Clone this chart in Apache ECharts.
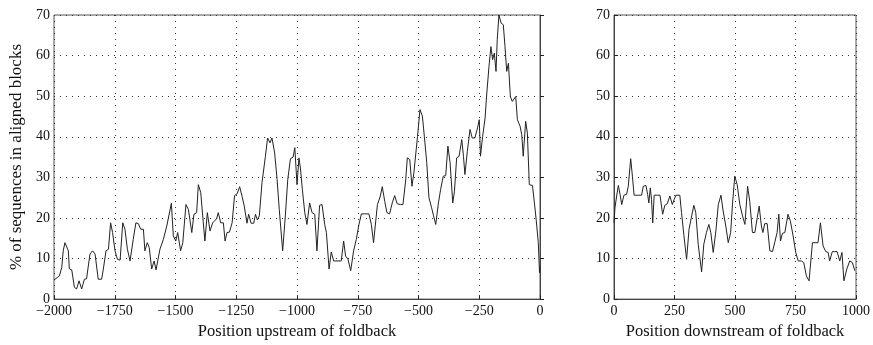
<!DOCTYPE html>
<html>
<head>
<meta charset="utf-8">
<script src="https://cdn.jsdelivr.net/npm/echarts@6/dist/echarts.min.js"></script>
<style>
  html, body { margin: 0; padding: 0; background: #fff; }
  #chart { width: 873px; height: 345px; }
</style>
</head>
<body>
<div id="chart"></div>
<script>
// upstream of foldback (left panel)
const upX = [-2000, -1992, -1978, -1968, -1962, -1955, -1948, -1941, -1937, -1927, -1916, -1907, -1897, -1886, -1875, -1866,
  -1852, -1841, -1831, -1818, -1804, -1797, -1786, -1776, -1767, -1759, -1749, -1739, -1728, -1717, -1708, -1698,
  -1687, -1674, -1663, -1653, -1643, -1632, -1626, -1616, -1608, -1598, -1588, -1580, -1564, -1550, -1536, -1517,
  -1509, -1499, -1491, -1479, -1470, -1457, -1447, -1433, -1424, -1413, -1406, -1396, -1388, -1379, -1369, -1358,
  -1347, -1331, -1324, -1314, -1303, -1296, -1288, -1278, -1267, -1257, -1246, -1236, -1226, -1217, -1206, -1199,
  -1189, -1178, -1171, -1163, -1155, -1144, -1130, -1121, -1111, -1103, -1092, -1082, -1073, -1059, -1048, -1038,
  -1027, -1016, -1009, -1000, -992, -986, -978, -968, -959, -948, -938, -927, -918, -907, -897, -886,
  -879, -868, -859, -849, -831, -818, -808, -800, -790, -779, -767, -756, -745, -735, -717, -704,
  -694, -685, -678, -669, -657, -649, -639, -630, -619, -608, -598, -588, -575, -564, -553, -546,
  -536, -527, -519, -504, -494, -484, -476, -466, -457, -446, -438, -429, -418, -409, -398, -388,
  -379, -370, -359, -352, -343, -333, -322, -315, -309, -299, -288, -279, -268, -257, -250, -245,
  -236, -226, -220, -210, -202, -195, -188, -181, -176, -169, -160, -151, -144, -137, -130, -122,
  -114, -106, -100, -93, -82, -75, -69, -59, -52, -44, -31, -23, -16, -7, -2, 0];
const upY = [4.7, 4.9, 5.7, 7.8, 11.9, 13.9, 14, 11.9, 7.5, 7.2, 2.9, 2.5, 4.5, 2.5, 4.9, 5,
  11.1, 11.9, 11.1, 4.9, 4.9, 7.4, 11.9, 12.3, 18.8, 16.4, 11.9, 9.8, 9.6, 18.8, 17.2, 12.3,
  9.4, 14.7, 18.8, 18.6, 17.2, 17.2, 11.9, 13.9, 12.7, 7.4, 9.4, 7.2, 12.3, 14.7, 18, 23.6,
  15.6, 14.3, 16.4, 11.9, 13.9, 23.3, 22.1, 16.4, 20.9, 21.3, 28.2, 26.2, 20.5, 14.3, 21.3, 16.8,
  18.8, 19.8, 21.3, 18.8, 18.8, 14.3, 16.4, 16.5, 18.8, 25.5, 26, 27.7, 25.3, 22.9, 18.7, 20.9,
  18.7, 18.7, 20.9, 19.5, 20.5, 28.7, 35.2, 39.7, 38.5, 39.7, 36, 29.5, 22.1, 11.9, 20.5, 29.5,
  34.6, 35, 37.3, 28.2, 34.8, 32.3, 27, 21.3, 18.4, 23.7, 21.3, 20.9, 11.9, 23.1, 23.3, 18.4,
  16.4, 7.4, 11.6, 9.4, 9.4, 9.4, 14.3, 10.6, 9.8, 7, 11.9, 14.7, 18.4, 21, 21, 21,
  18.4, 13.9, 13.9, 23.3, 25.4, 27.7, 24.1, 21.3, 21, 23.7, 25.5, 23.5, 23.3, 23.3, 29.1, 34.8,
  34.4, 27.8, 31.1, 40.1, 46.7, 45.1, 40.1, 33.6, 25, 22.5, 20.5, 18.4, 23.7, 27, 30.3, 30.4,
  37.7, 33.6, 23.7, 26.6, 34.8, 35.2, 39.3, 35.2, 30.7, 36.4, 41.8, 39.7, 39.7, 42.2, 44.2, 35.2,
  40.1, 44.6, 49.9, 57.3, 62.2, 59, 60.6, 56.1, 63.9, 70, 68, 67.6, 62.2, 56.1, 58.1, 49.9,
  48.7, 49.1, 49.9, 44.2, 42.6, 40.5, 35.2, 43.8, 40.9, 28.2, 28, 23.7, 19.7, 13.9, 6.5, 8];

// downstream of foldback (right panel)
const downX = [0, 4, 11, 18, 25, 32, 41, 52, 59, 69, 76, 83, 100, 114, 121, 132,
  139, 144, 150, 155, 160, 166, 179, 190, 201, 210, 220, 231, 241, 249, 256, 272,
  279, 289, 300, 310, 321, 330, 338, 348, 362, 371, 382, 392, 400, 410, 421, 431,
  442, 451, 462, 472, 482, 490, 499, 509, 520, 531, 541, 552, 561, 572, 582, 592,
  600, 609, 615, 623, 633, 644, 655, 664, 674, 681, 688, 696, 706, 719, 729, 740,
  751, 761, 775, 784, 795, 806, 812, 820, 834, 843, 853, 864, 875, 885, 891, 902,
  912, 922, 933, 942, 950, 962, 974, 985, 995];
const downY = [18.8, 22.5, 25.4, 28, 25.8, 23.3, 25.6, 25.8, 27.8, 34.6, 30.3, 25.6, 25.6, 25.6, 27.8, 28,
  25.8, 23.7, 27.4, 24.6, 18.8, 25.6, 25.6, 25.6, 20.9, 23.1, 23.5, 25.4, 23.3, 24.6, 25.6, 25.6,
  21.3, 15.6, 9.8, 17.2, 20.5, 23.1, 21.3, 13.5, 6.7, 13.5, 16.4, 18.4, 16.4, 11.5, 16.8, 23.3,
  25.6, 21.7, 18, 13.9, 16.4, 23.7, 30.3, 28.2, 23.3, 20.5, 18.4, 27.8, 24.1, 16.4, 16.4, 20.1,
  22.9, 18, 16.4, 18.6, 18.6, 11.9, 11.7, 13.9, 16.4, 20.9, 14.3, 16.2, 16.4, 20.9, 19.2, 15.6,
  11.5, 9.4, 9.4, 9, 5.7, 4.5, 4.9, 13.9, 13.9, 13.9, 18.8, 13.1, 11.7, 11.5, 9.4, 11.7,
  11.7, 11.7, 9.4, 11.5, 4.5, 7.4, 9.4, 9, 7];

const font = 'Liberation Serif, Times New Roman, serif';
const minus = v => String(v).replace('-', '\u2212');

const pairs = (xs, ys) => xs.map((x, i) => [x, ys[i]]);

function xAxisFor(idx, min, max, name) {
  return {
    type: 'value', gridIndex: idx, min: min, max: max, interval: 250,
    name: name, nameLocation: 'middle', nameGap: 22,
    nameTextStyle: { fontFamily: font, fontSize: 16.5, color: '#111' },
    axisLine: { show: true, lineStyle: { color: '#444', width: 1 } },
    axisTick: { show: true, inside: true, length: 4, lineStyle: { color: '#222' } },
    axisLabel: { fontFamily: font, fontSize: 14, color: '#111', margin: 5, formatter: minus },
    splitLine: { show: true, lineStyle: { color: '#333', type: [1, 5], width: 1 } }
  };
}

function yAxisFor(idx, name) {
  return {
    type: 'value', gridIndex: idx, min: 0, max: 70, interval: 10,
    name: name, nameLocation: 'middle', nameGap: 28,
    nameTextStyle: { fontFamily: font, fontSize: 17, color: '#111' },
    axisLine: { show: true, lineStyle: { color: '#444', width: 1 } },
    axisTick: { show: true, inside: true, length: 4, lineStyle: { color: '#222' } },
    axisLabel: { fontFamily: font, fontSize: 14, color: '#111', margin: 4 },
    splitLine: { show: true, lineStyle: { color: '#333', type: [1, 5], width: 1 } }
  };
}

const chart = echarts.init(document.getElementById('chart'), null, { renderer: 'canvas' });
chart.setOption({
  animation: false,
  backgroundColor: '#fff',
  grid: [
    { left: 54, right: 333, top: 15, bottom: 45, show: true, borderColor: '#555', borderWidth: 1 },
    { left: 614, right: 17, top: 15, bottom: 45, show: true, borderColor: '#555', borderWidth: 1 }
  ],
  xAxis: [
    xAxisFor(0, -2000, 0, 'Position upstream of foldback'),
    xAxisFor(1, 0, 1000, 'Position downstream of foldback')
  ],
  yAxis: [
    yAxisFor(0, '% of sequences in aligned blocks'),
    yAxisFor(1, '')
  ],
  series: [
    {
      type: 'line', xAxisIndex: 0, yAxisIndex: 0, data: pairs(upX, upY),
      showSymbol: false, lineStyle: { color: '#222', width: 1 }
    },
    {
      type: 'line', xAxisIndex: 1, yAxisIndex: 1, data: pairs(downX, downY),
      showSymbol: false, lineStyle: { color: '#222', width: 1 }
    }
  ]
});
</script>
</body>
</html>
